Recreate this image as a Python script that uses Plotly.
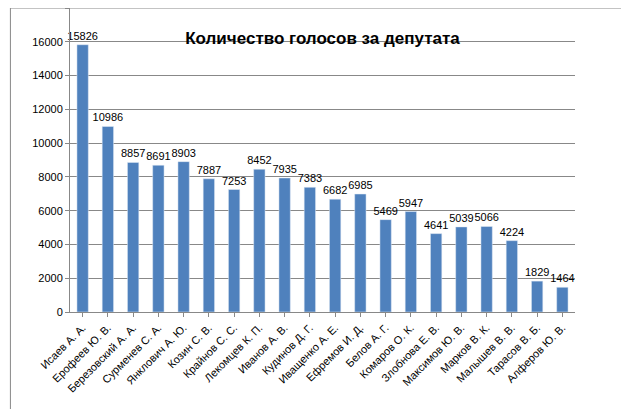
import plotly.graph_objects as go

names = ["Исаев А. А.", "Ерофеев Ю. В.", "Березовский А. А.", "Сурменев С. А.",
         "Янклович А. Ю.", "Козин С. В.", "Крайнов С. С.", "Лекомцев К. П.",
         "Иванов А. В.", "Кудинов Д. Г.", "Иващенко А. Е.", "Ефремов И. Д.",
         "Белов А. Г.", "Комаров О. К.", "Злобнова Е. В.", "Максимов Ю. В.",
         "Марков В. К.", "Малышев В. В.", "Тарасов В. Б.", "Алферов Ю. В."]
votes = [15826, 10986, 8857, 8691, 8903, 7887, 7253, 8452, 7935, 7383,
         6682, 6985, 5469, 5947, 4641, 5039, 5066, 4224, 1829, 1464]

fig = go.Figure(go.Bar(
    x=names, y=votes, text=votes, textposition="outside",
    textfont=dict(size=11, color="black"), cliponaxis=False,
    marker_color="#4F81BD", width=0.45,
))

fig.update_layout(
    width=629, height=409,
    margin=dict(l=62, r=62, t=0, b=105),
    paper_bgcolor="white", plot_bgcolor="white",
    uniformtext=dict(minsize=11, mode="show"),
    font=dict(family="Liberation Sans, Arial", size=11, color="black"),
    title=dict(text="<b>Количество голосов за депутата</b>", x=0.5, y=0.94,
               xanchor="center", font=dict(size=17)),
    showlegend=False,
    shapes=[dict(type="rect", xref="paper", yref="paper", x0=-0.118, x1=1.118,
                 y0=-0.355, y1=1.0, line=dict(color="#888", width=1))],
)
fig.update_yaxes(range=[0, 18000], dtick=2000, tickformat="d", showgrid=True,
                 gridcolor="#888", gridwidth=1, showline=True, linecolor="#888",
                 ticks="outside", ticklen=4, tickcolor="#888")
fig.update_xaxes(tickangle=-45, showline=True, linecolor="#888", ticks="outside",
                 tickcolor="#888", ticklen=4)

fig.write_html("out.html")
